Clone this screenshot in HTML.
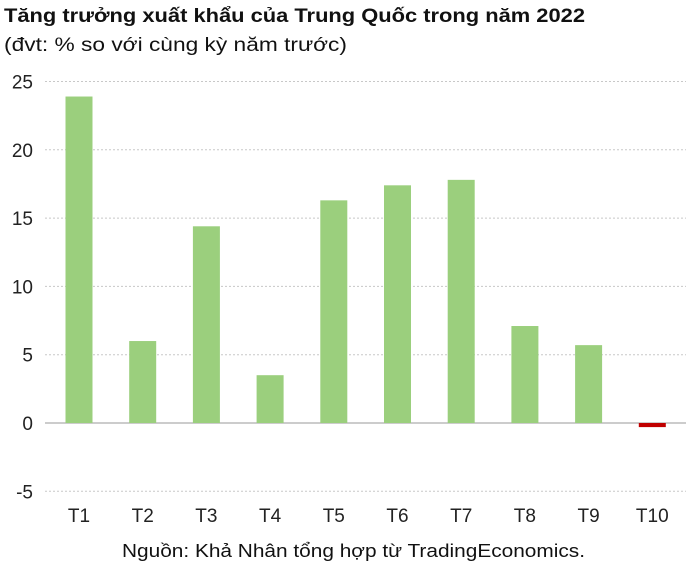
<!DOCTYPE html>
<html><head><meta charset="utf-8"><style>
body{margin:0;background:#fff;font-family:"Liberation Sans",sans-serif;}
svg{display:block}
</style></head><body>
<svg id="chart" width="700" height="571" xmlns="http://www.w3.org/2000/svg">
<text x="4" y="22" font-size="19" font-weight="bold" fill="#111" textLength="581" lengthAdjust="spacingAndGlyphs">Tăng trưởng xuất khẩu của Trung Quốc trong năm 2022</text>
<text x="4" y="51" font-size="19" fill="#111" textLength="343" lengthAdjust="spacingAndGlyphs">(đvt: % so với cùng kỳ năm trước)</text>
<g id="grid"></g><g id="bars"></g><g id="xlabels"></g>
<text x="122" y="557" font-size="18" fill="#111" textLength="463" lengthAdjust="spacingAndGlyphs">Nguồn: Khả Nhân tổng hợp từ TradingEconomics.</text>
</svg>
<script>
const categories=["T1","T2","T3","T4","T5","T6","T7","T8","T9","T10"];
const values=[23.9,6.0,14.4,3.5,16.3,17.4,17.8,7.1,5.7,-0.3];
const yTicks=[25,20,15,10,5,0,-5];
const NS="http://www.w3.org/2000/svg";
const y0=423,pxPerUnit=13.66;
function yScale(v){return y0-v*pxPerUnit;}
function xScale(i){return 79+i*63.7;}
function mk(t,a,p){const e=document.createElementNS(NS,t);for(const k in a)e.setAttribute(k,a[k]);p.appendChild(e);return e;}
const grid=document.getElementById('grid'),bars=document.getElementById('bars'),xl=document.getElementById('xlabels');
yTicks.forEach(t=>{
  const y=yScale(t);
  const l=mk('line',{x1:45,x2:686,y1:y,y2:y,stroke:t===0?'#999':'#c8c8c8','stroke-width':1,'stroke-dasharray':t===0?'':'2,2'},grid);
  
  
  const tx=mk('text',{x:33,y:y+7,'font-size':19,'text-anchor':'end',fill:'#222'},grid);
  tx.textContent=t;
  
  
});
categories.forEach((c,i)=>{
  const v=values[i],cx=xScale(i),w=27;
  const top=Math.min(yScale(v),y0),h=Math.abs(yScale(v)-y0);
  const r=mk('rect',{x:cx-w/2,y:top,width:w,height:Math.max(h,1),fill:v<0?'#c00000':'#9bcf7d'},bars);
  
  
  const t=mk('text',{x:cx,y:522,'font-size':19,'text-anchor':'middle',fill:'#222'},xl);
  t.textContent=c;
  
  
});
</script>
</body></html>
